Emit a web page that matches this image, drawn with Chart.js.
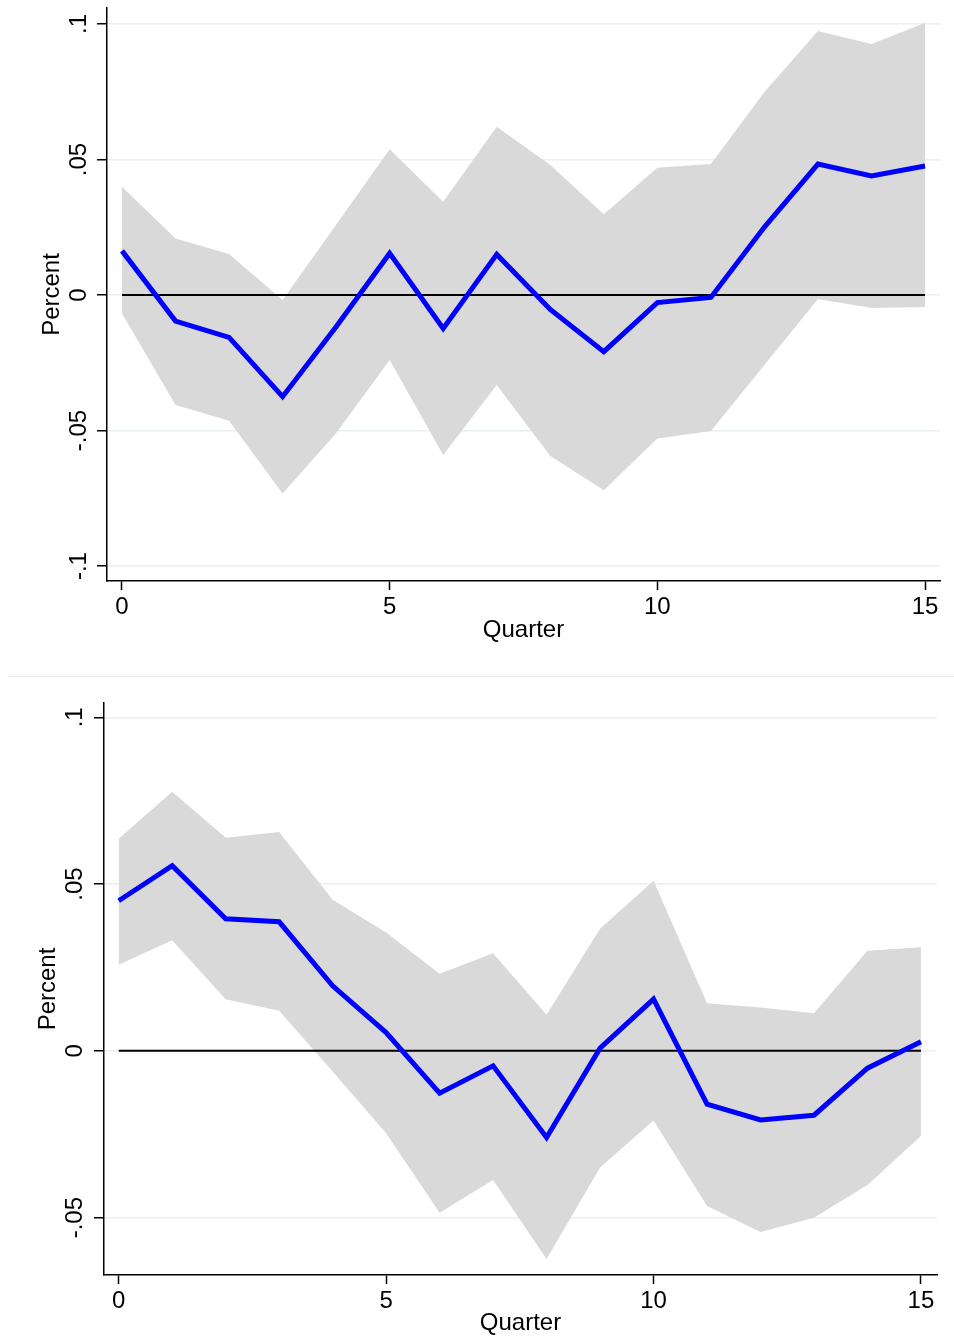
<!DOCTYPE html>
<html>
<head>
<meta charset="utf-8">
<script src="https://cdn.jsdelivr.net/npm/chart.js@4.4.1/dist/chart.umd.min.js"></script>
<style>
  body { margin: 0; background: #fff; }
  #wrap { position: relative; width: 954px; height: 1340px; overflow: hidden; }
  canvas { position: absolute; left: 0; }
  #topChart { top: 0; }
  #botChart { top: 677px; }
  #sep { position: absolute; left: 8px; right: 0; top: 676px; height: 1px; background: #ececec; }
</style>
</head>
<body>
<div id="wrap">
  <canvas id="topChart" width="954" height="676"></canvas>
  <div id="sep"></div>
  <canvas id="botChart" width="954" height="663"></canvas>
</div>
<script>
// ---- data ----
const quarters = [0, 1, 2, 3, 4, 5, 6, 7, 8, 9, 10, 11, 12, 13, 14, 15];
const xTicks = [0, 5, 10, 15];

// upper panel
const topIrf   = [0.0163, -0.0096, -0.0156, -0.0375, -0.0117, 0.0154, -0.0123, 0.0150, -0.0053, -0.0209, -0.0028, -0.0009, 0.0251, 0.0483, 0.0439, 0.0476];
const topUpper = [0.0400, 0.0209, 0.0151, -0.0018, 0.0259, 0.0538, 0.0344, 0.0621, 0.0480, 0.0298, 0.0470, 0.0483, 0.0749, 0.0974, 0.0926, 0.1004];
const topLower = [-0.0068, -0.0406, -0.0464, -0.0732, -0.0510, -0.0240, -0.0590, -0.0332, -0.0594, -0.0720, -0.0529, -0.0502, -0.0258, -0.0015, -0.0048, -0.0044];
const topYTicks  = [-0.1, -0.05, 0, 0.05, 0.1];
const topYLabels = ["-.1", "-.05", "0", ".05", ".1"];

// lower panel
const botIrf   = [0.0450, 0.0555, 0.0396, 0.0387, 0.0195, 0.0055, -0.0127, -0.0045, -0.0260, 0.0008, 0.0155, -0.0160, -0.0207, -0.0193, -0.0052, 0.0027];
const botUpper = [0.0636, 0.0777, 0.0639, 0.0656, 0.0453, 0.0355, 0.0231, 0.0293, 0.0108, 0.0366, 0.0510, 0.0143, 0.0130, 0.0113, 0.0300, 0.0311];
const botLower = [0.0258, 0.0332, 0.0155, 0.0120, -0.0062, -0.0247, -0.0485, -0.0387, -0.0624, -0.0350, -0.0209, -0.0465, -0.0543, -0.0500, -0.0402, -0.0255];
const botYTicks  = [-0.05, 0, 0.05, 0.1];
const botYLabels = ["-.05", "0", ".05", ".1"];

const FONT = '"Liberation Sans", Arial, Helvetica, sans-serif';

const toPoints = (ys) => quarters.map((q, i) => ({ x: q, y: ys[i] }));

// y tick labels + title drawn rotated, Stata style
const rotatedYLabels = {
  id: "rotatedYLabels",
  afterDraw(chart, args, opts) {
    const ctx = chart.ctx;
    const y = chart.scales.y;
    ctx.save();
    ctx.font = "24px " + FONT;
    ctx.fillStyle = "#000";
    ctx.textAlign = "center";
    ctx.textBaseline = "alphabetic";
    opts.ticks.forEach((v, i) => {
      ctx.save();
      ctx.translate(opts.labelX, y.getPixelForValue(v));
      ctx.rotate(-Math.PI / 2);
      ctx.fillText(opts.labels[i], 0, 0);
      ctx.restore();
    });
    const area = chart.chartArea;
    ctx.translate(opts.titleX, (area.top + area.bottom) / 2);
    ctx.rotate(-Math.PI / 2);
    ctx.fillText("Percent", 0, 0);
    ctx.restore();
  },
};

function makeChart(id, p) {
  const ctx = document.getElementById(id);
  return new Chart(ctx, {
    type: "line",
    data: {
      datasets: [
        { label: "irf", data: toPoints(p.irf), borderColor: "#0000ff", borderWidth: 5,
          pointRadius: 0, fill: false, order: 0, borderJoinStyle: "miter" },
        { label: "zero", data: [{ x: quarters[0], y: 0 }, { x: quarters[quarters.length - 1], y: 0 }],
          borderColor: "#000", borderWidth: 2, pointRadius: 0, fill: false, order: 1 },
        { label: "upper", data: toPoints(p.upper), borderColor: "rgba(0,0,0,0)", borderWidth: 0,
          backgroundColor: "#d9d9d9", pointRadius: 0, fill: "+1", order: 2 },
        { label: "lower", data: toPoints(p.lower), borderColor: "rgba(0,0,0,0)", borderWidth: 0,
          pointRadius: 0, fill: false, order: 3 },
      ],
    },
    options: {
      responsive: false,
      animation: false,
      devicePixelRatio: 1,
      layout: { padding: { top: p.padTop, right: p.padRight, left: 0, bottom: 0 } },
      plugins: {
        legend: { display: false },
        tooltip: { enabled: false },
        rotatedYLabels: { ticks: p.yTicks, labels: p.yLabels, labelX: p.labelX, titleX: p.titleX },
      },
      scales: {
        x: {
          type: "linear",
          min: p.xMin,
          max: p.xMax,
          afterBuildTicks: (axis) => { axis.ticks = xTicks.map((v) => ({ value: v })); },
          afterFit: (axis) => { axis.height = p.xHeight; },
          ticks: { color: "#000", font: { family: FONT, size: 24 }, padding: 3, maxRotation: 0,
                   callback: (v) => String(v) },
          grid: { drawOnChartArea: false, drawTicks: true, tickLength: 9, tickColor: "#000", tickWidth: 1.5 },
          border: { display: true, color: "#000", width: 1.5 },
          title: { display: true, text: "Quarter", color: "#000", font: { family: FONT, size: 24 },
                   padding: { top: 0, bottom: p.titlePad } },
        },
        y: {
          min: p.yMin,
          max: p.yMax,
          afterBuildTicks: (axis) => { axis.ticks = p.yTicks.map((v) => ({ value: v })); },
          afterFit: (axis) => { axis.width = p.yWidth; },
          ticks: { display: false },
          grid: { color: "#e8f0f2", lineWidth: 1.5, tickLength: 10, tickColor: "#000", tickWidth: 1.5 },
          border: { display: true, color: "#000", width: 1.5 },
        },
      },
    },
    plugins: [rotatedYLabels],
  });
}

makeChart("topChart", {
  irf: topIrf, upper: topUpper, lower: topLower,
  yTicks: topYTicks, yLabels: topYLabels,
  yMin: -0.1055, yMax: 0.1059, xMin: -0.28, xMax: 15.28,
  padTop: 8, padRight: 14, yWidth: 107, xHeight: 95, titlePad: 31,
  labelX: 86, titleX: 59,
});

makeChart("botChart", {
  irf: botIrf, upper: botUpper, lower: botLower,
  yTicks: botYTicks, yLabels: botYLabels,
  yMin: -0.0672, yMax: 0.1043, xMin: -0.275, xMax: 15.30,
  padTop: 26, padRight: 17, yWidth: 104, xHeight: 65, titlePad: 2,
  labelX: 82, titleX: 55,
});
</script>
</body>
</html>
